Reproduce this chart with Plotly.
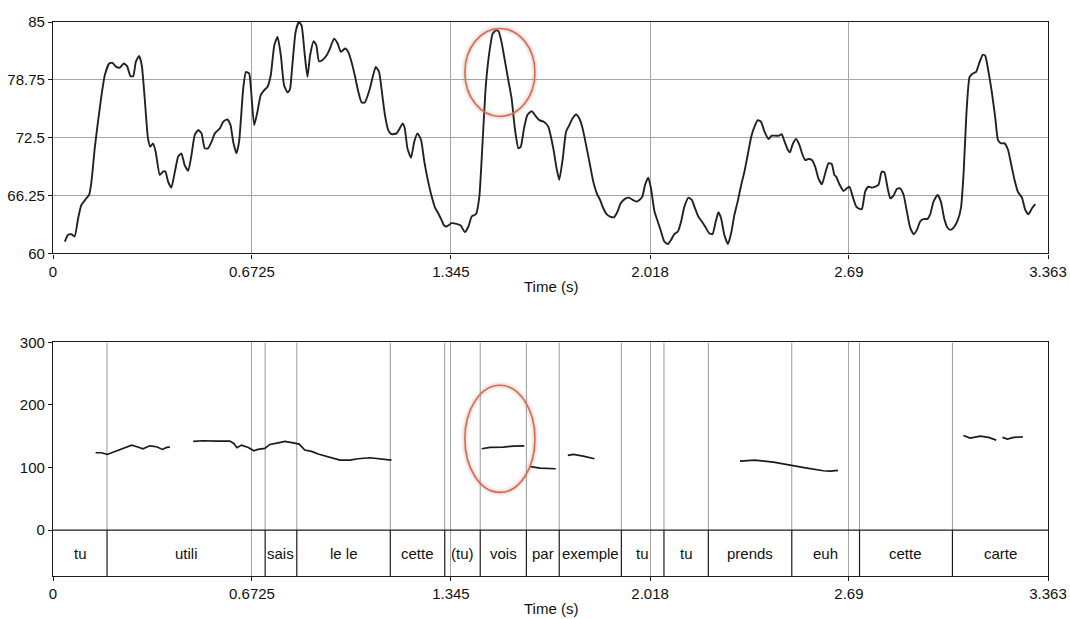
import plotly.graph_objects as go

# ---- intensity contour (dB) ----
INT_T = [0.040, 0.051, 0.062, 0.073, 0.085, 0.096, 0.113, 0.122, 0.130, 0.141,
         0.152, 0.164, 0.175, 0.190, 0.201, 0.214, 0.226, 0.239, 0.250, 0.262,
         0.271, 0.280, 0.291, 0.300, 0.310, 0.321, 0.329, 0.338, 0.347, 0.361,
         0.372, 0.380, 0.389, 0.400, 0.412, 0.423, 0.434, 0.445, 0.457, 0.468,
         0.479, 0.491, 0.502, 0.513, 0.524, 0.536, 0.547, 0.564, 0.575, 0.589,
         0.600, 0.609, 0.620, 0.629, 0.643, 0.652, 0.663,
         0.669, 0.680, 0.691, 0.702, 0.714, 0.725, 0.736, 0.748, 0.759, 0.770,
         0.781, 0.793, 0.801, 0.808, 0.820, 0.831, 0.840, 0.851, 0.860, 0.869,
         0.881, 0.890, 0.899, 0.910, 0.925, 0.936, 0.950, 0.962, 0.973, 0.987,
         0.998, 1.009, 1.020, 1.032, 1.043, 1.054, 1.071, 1.082, 1.091, 1.102,
         1.113, 1.122, 1.133, 1.144, 1.161, 1.173, 1.182, 1.189, 1.198, 1.210,
         1.221, 1.232, 1.244, 1.255, 1.268, 1.280, 1.291, 1.302, 1.313, 1.322,
         1.330, 1.347, 1.364, 1.378, 1.392, 1.404, 1.415, 1.430, 1.441, 1.452,
         1.463, 1.475, 1.486, 1.497, 1.506, 1.516, 1.528, 1.539, 1.550, 1.561,
         1.573, 1.581, 1.592, 1.603, 1.618, 1.629, 1.644, 1.659, 1.674, 1.691,
         1.702, 1.711, 1.723, 1.734, 1.745, 1.756, 1.768, 1.779, 1.790, 1.804,
         1.815, 1.826, 1.838, 1.849, 1.860, 1.871, 1.883, 1.896, 1.907, 1.919,
         1.933, 1.947, 1.959, 1.973, 1.982,
         1.992, 2.001, 2.012, 2.021, 2.033, 2.044, 2.055, 2.066, 2.078, 2.089,
         2.100, 2.112, 2.123, 2.134, 2.148, 2.159, 2.170, 2.181, 2.193, 2.204,
         2.218, 2.229, 2.240, 2.249, 2.258, 2.269, 2.281, 2.292, 2.303, 2.314,
         2.326, 2.337, 2.348, 2.360, 2.371, 2.382, 2.393, 2.405, 2.418, 2.429,
         2.443, 2.454, 2.463, 2.472, 2.484, 2.491, 2.499, 2.511, 2.522, 2.533,
         2.542, 2.553, 2.565, 2.576, 2.587, 2.599, 2.610, 2.621, 2.632, 2.641,
         2.647, 2.658, 2.672, 2.683, 2.692, 2.703, 2.715, 2.726, 2.734, 2.745,
         2.756, 2.768, 2.779, 2.790, 2.801, 2.810, 2.821, 2.830, 2.841, 2.852,
         2.863, 2.875, 2.886, 2.897, 2.909, 2.920, 2.931, 2.942, 2.956, 2.965,
         2.976, 2.990, 3.001, 3.012, 3.023, 3.033, 3.044, 3.057, 3.069, 3.078,
         3.087, 3.098, 3.109, 3.120, 3.132, 3.143, 3.151, 3.162, 3.173, 3.185,
         3.194, 3.205, 3.216, 3.228, 3.239, 3.250, 3.261, 3.275, 3.286, 3.297,
         3.309, 3.320]

INT_DB = [61.29, 62.01, 62.08, 61.83, 63.81, 65.24, 65.96, 66.32, 67.76, 71.35,
          74.22, 77.10, 79.25, 80.51, 80.58, 80.15, 80.08, 80.51, 80.26, 79.15,
          79.15, 80.69, 81.34, 80.33, 76.74, 72.43, 71.53, 71.89, 70.99, 68.48,
          68.84, 68.84, 67.76, 67.11, 68.84, 70.45, 70.81, 69.55, 68.94, 70.63,
          72.79, 73.33, 72.97, 71.35, 71.35, 72.07, 72.97, 73.51, 74.22, 74.48,
          73.86, 72.07, 70.81, 72.07, 77.82, 79.61, 79.43,
          77.82, 73.86, 75.30, 77.10, 77.64, 78.00, 79.25, 82.49, 83.38, 81.41,
          78.18, 77.38, 77.74, 79.97, 83.92, 85.00, 84.64, 81.41, 79.07, 81.41,
          82.92, 82.49, 80.76, 80.87, 81.41, 82.13, 83.20, 82.67, 81.77, 82.13,
          81.77, 80.69, 79.25, 77.46, 76.31, 76.31, 77.82, 79.25, 80.15, 79.61,
          77.10, 74.94, 73.33, 72.89, 72.97, 73.58, 74.04, 73.51, 71.35, 70.34,
          72.07, 72.97, 72.25, 69.91, 67.76, 66.14, 64.96, 64.35, 63.63, 63.02,
          62.91, 63.27, 63.20, 63.02, 62.30, 62.91, 63.99, 64.27, 66.14, 72.07,
          78.18, 81.77, 83.74, 84.10, 83.99, 82.84, 80.69, 78.71, 76.74, 73.51,
          71.35, 71.53, 73.51, 74.94, 75.37, 74.94, 74.40, 74.22, 73.69, 71.35,
          69.20, 67.94, 70.27, 73.15, 73.86, 74.58, 75.01, 74.58, 73.51, 71.35,
          69.55, 67.76, 66.50, 65.78, 64.88, 64.24, 63.99, 63.91, 64.45, 65.42,
          65.89, 66.03, 65.78, 65.60, 65.78,
          66.14, 67.40, 68.19, 67.04, 64.53, 63.45, 62.37, 61.29, 61.01, 61.47,
          62.08, 62.37, 63.45, 65.06, 66.03, 65.78, 64.88, 63.99, 63.45, 62.91,
          62.19, 62.08, 63.45, 64.45, 63.81, 62.01, 61.01, 62.19, 64.17, 65.60,
          67.40, 68.84, 70.63, 72.61, 73.69, 74.40, 74.22, 73.15, 72.36, 72.72,
          72.72, 72.72, 72.89, 72.14, 71.17, 70.92, 71.71, 72.36, 71.78, 70.70,
          70.09, 70.20, 70.09, 69.37, 68.12, 67.47, 68.66, 69.73, 69.66, 68.48,
          68.30, 67.47, 66.75, 67.04, 67.22, 66.14, 65.06, 64.81, 64.81, 66.68,
          67.22, 67.11, 67.22, 67.40, 68.84, 68.76, 67.04, 65.96, 66.25, 66.97,
          67.04, 66.32, 64.53, 62.80, 62.08, 62.55, 63.45, 63.70, 63.74, 64.24,
          65.60, 66.32, 65.60, 63.81, 62.80, 62.55, 62.80, 63.52, 64.96, 68.84,
          74.94, 79.07, 79.43, 79.61, 80.69, 81.48, 81.34, 79.61, 77.46, 74.58,
          72.25, 71.89, 71.89, 71.17, 69.55, 67.94, 66.68, 66.03, 64.71, 64.24,
          64.88, 65.32]

# ---- pitch contour (Hz); None marks unvoiced gaps ----
F0_T = [0.144, 0.164, 0.183, 0.209, 0.237, 0.266, 0.284, 0.304, 0.327, 0.350, 0.370, 0.384, 0.395, None,
        0.474, 0.507, 0.553, 0.598, 0.611, 0.622, 0.637, 0.660, 0.679, 0.693, 0.716, 0.733,
        0.761, 0.784, 0.812, 0.832, 0.851, 0.874, 0.896, 0.919, 0.947, 0.970, 1.003, 1.031,
        1.071, 1.105, 1.144, None,
        1.449, 1.477, 1.522, 1.556, 1.593, None,
        1.610, 1.646, 1.699, None,
        1.740, 1.759, 1.792, 1.830, None,
        2.322, 2.373, 2.435, 2.491, 2.548, 2.604, 2.627, 2.653, None,
        3.077, 3.100, 3.134, 3.162, 3.188, None,
        3.209, 3.226, 3.247, 3.278]
F0_HZ = [123.6, 123.6, 120.9, 125.2, 130.5, 135.8, 133.2, 130.0, 134.7, 133.2, 128.9, 132.1, 132.6, None,
         141.7, 142.8, 142.2, 142.2, 138.5, 131.6, 135.8, 132.1, 126.8, 128.9, 130.5, 136.9,
         139.5, 141.7, 139.5, 137.4, 127.9, 125.7, 121.5, 118.3, 114.6, 111.9, 111.9, 114.0,
         115.6, 113.5, 111.9, None,
         130.0, 132.1, 132.6, 134.2, 134.7, None,
         101.7, 99.1, 98.0, None,
         119.3, 120.9, 118.3, 114.0, None,
         110.3, 111.9, 108.7, 103.4, 99.1, 94.8, 94.2, 95.4, None,
         151.3, 147.0, 150.2, 148.1, 143.8, None,
         148.1, 145.4, 148.1, 149.1]

# ---- word tier ----
WORD_BOUNDS = [0.0, 0.1826, 0.717, 0.824, 1.140, 1.324, 1.444, 1.600, 1.711,
               1.921, 2.065, 2.215, 2.497, 2.726, 3.040, 3.363]
WORDS = ["tu", "utili", "sais", "le le", "cette", "(tu)", "vois", "par",
         "exemple", "tu", "tu", "prends", "euh", "cette", "carte"]

# ---- axis ticks ----
X_TICKS = [0, 0.6725, 1.345, 2.018, 2.69, 3.363]
X_TICK_TEXT = ["0", "0.6725", "1.345", "2.018", "2.69", "3.363"]
DB_TICKS = [60, 66.25, 72.5, 78.75, 85]
DB_TICK_TEXT = ["60", "66.25", "72.5", "78.75", "85"]
HZ_TICKS = [0, 100, 200, 300]

T_MAX = 3.363
TIER_BOTTOM = -73.5
FONT = "Liberation Sans, Arial, Helvetica, sans-serif"
TEXT = "#111111"
GRID = "#a6a6a6"
FRAME = "#1c1c1c"

fig = go.Figure()

fig.add_trace(go.Scatter(
    x=INT_T, y=INT_DB, xaxis="x", yaxis="y", mode="lines",
    line=dict(color="#222222", width=1.9, shape="spline", smoothing=0.5),
    hoverinfo="skip", showlegend=False))

fig.add_trace(go.Scatter(
    x=F0_T, y=F0_HZ, xaxis="x2", yaxis="y2", mode="lines", connectgaps=False,
    line=dict(color="#1a1a1a", width=1.7),
    hoverinfo="skip", showlegend=False))

axis_common = dict(
    showline=True, linecolor=FRAME, linewidth=1.3, mirror=True,
    ticks="outside", ticklen=4, tickcolor=FRAME, tickwidth=1,
    tickfont=dict(family=FONT, size=15, color=TEXT),
    zeroline=False, fixedrange=True, automargin=False)

shapes = []
annotations = []

# word boundaries: grey across the pitch panel, black inside the tier
for b in WORD_BOUNDS[1:-1]:
    shapes.append(dict(type="line", xref="x2", yref="y2", x0=b, x1=b, y0=0, y1=300,
                       line=dict(color="#9a9a9a", width=1), layer="below"))
    shapes.append(dict(type="line", xref="x2", yref="y2", x0=b, x1=b, y0=TIER_BOTTOM, y1=0,
                       line=dict(color=FRAME, width=1.2)))
# tier top border
shapes.append(dict(type="line", xref="x2", yref="y2", x0=0, x1=T_MAX, y0=0, y1=0,
                   line=dict(color=FRAME, width=1.3)))

# word labels
for i, w in enumerate(WORDS):
    annotations.append(dict(
        x=(WORD_BOUNDS[i] + WORD_BOUNDS[i + 1]) / 2, y=TIER_BOTTOM / 2,
        xref="x2", yref="y2", text=w, showarrow=False,
        font=dict(family=FONT, size=15, color=TEXT),
        xanchor="center", yanchor="middle"))

# highlight ellipses (soft shadow + orange outline)
for xr, yr, x0, x1, y0, y1 in [("x", "y", 1.392, 1.629, 74.8, 84.3),
                                ("x2", "y2", 1.392, 1.629, 60.2, 231.6)]:
    for w, c, op in [(7, "#888888", 0.10), (4, "#888888", 0.12)]:
        shapes.append(dict(type="circle", xref=xr, yref=yr, x0=x0, x1=x1, y0=y0, y1=y1,
                           line=dict(color=c, width=w), opacity=op))
    shapes.append(dict(type="circle", xref=xr, yref=yr, x0=x0, x1=x1, y0=y0, y1=y1,
                       line=dict(color="#ea6446", width=1.6)))

# axis titles
for ypos in (0.5217, -0.0578):
    annotations.append(dict(x=0.5, y=ypos, xref="paper", yref="paper", text="Time (s)",
                            showarrow=False, xanchor="center", yanchor="middle",
                            font=dict(family=FONT, size=15, color=TEXT)))

fig.update_layout(
    width=1070, height=619,
    margin=dict(l=53, r=22, t=22, b=43),
    paper_bgcolor="white", plot_bgcolor="white",
    xaxis=dict(domain=[0, 1], range=[0, T_MAX], anchor="y",
               tickvals=X_TICKS, ticktext=X_TICK_TEXT,
               showgrid=True, gridcolor=GRID, gridwidth=1, **axis_common),
    yaxis=dict(domain=[0.5822, 1], range=[60, 85], anchor="x",
               tickvals=DB_TICKS, ticktext=DB_TICK_TEXT,
               showgrid=True, gridcolor=GRID, gridwidth=1, **axis_common),
    xaxis2=dict(domain=[0, 1], range=[0, T_MAX], anchor="y2",
                tickvals=X_TICKS, ticktext=X_TICK_TEXT,
                showgrid=True, gridcolor=GRID, gridwidth=1, **axis_common),
    yaxis2=dict(domain=[0, 0.4216], range=[TIER_BOTTOM, 300], anchor="x2",
                tickvals=HZ_TICKS, showgrid=False, **axis_common),
    shapes=shapes, annotations=annotations,
    showlegend=False,
)

fig.write_html("out.html")
